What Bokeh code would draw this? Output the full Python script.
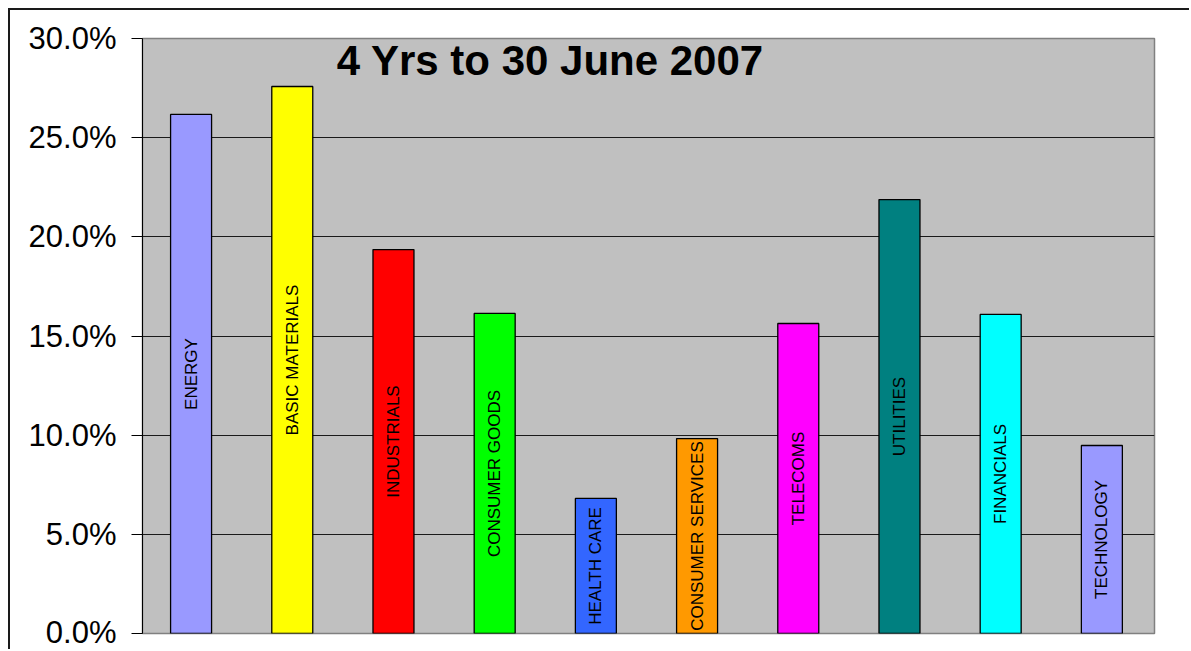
import math
from bokeh.plotting import figure
from bokeh.models import ColumnDataSource, NumeralTickFormatter, FixedTicker, Range1d, Label
from bokeh.core.properties import value
from bokeh.embed import file_html
from bokeh.resources import INLINE

sectors = ["ENERGY", "BASIC MATERIALS", "INDUSTRIALS", "CONSUMER GOODS", "HEALTH CARE",
           "CONSUMER SERVICES", "TELECOMS", "UTILITIES", "FINANCIALS", "TECHNOLOGY"]
returns = [0.2617, 0.2758, 0.1936, 0.1614, 0.0681, 0.0983, 0.1563, 0.2188, 0.1609, 0.0948]
colors = ["#9999FF", "#FFFF00", "#FF0000", "#00FF00", "#3366FF",
          "#FF9900", "#FF00FF", "#008080", "#00FFFF", "#9999FF"]
y_ticks = [0.0, 0.05, 0.10, 0.15, 0.20, 0.25, 0.30]
title_text = "4 Yrs to 30 June 2007"

FONT = "Liberation Sans"

xs = [i + 0.48 for i in range(len(sectors))]
source = ColumnDataSource(dict(x=xs, top=returns, color=colors, name=sectors,
                               mid=[r / 2 for r in returns]))

p = figure(width=1181, height=641, output_backend="svg", toolbar_location=None,
           x_range=Range1d(0, len(sectors)), y_range=Range1d(0, 0.30),
           min_border_left=132, min_border_top=28, min_border_right=37, min_border_bottom=18)
p.styles = {"margin-left": "8px", "margin-top": "8px",
            "border-top": "2px solid #1a1a1a", "border-left": "2px solid #1a1a1a"}

p.background_fill_color = "#C0C0C0"
p.border_fill_color = "white"
p.outline_line_color = "#808080"
p.outline_line_width = 1.5

p.xaxis.visible = False
p.xgrid.visible = False

p.yaxis.ticker = FixedTicker(ticks=y_ticks)
p.yaxis.formatter = NumeralTickFormatter(format="0.0%")
p.yaxis.major_label_text_font = FONT
p.yaxis.major_label_text_font_size = "31px"
p.yaxis.major_label_text_color = "black"
p.yaxis.major_label_standoff = 15
p.yaxis.major_tick_out = 11
p.yaxis.major_tick_in = 0
p.yaxis.minor_tick_line_color = None
p.yaxis.axis_line_color = "black"
p.yaxis.major_tick_line_color = "black"

p.ygrid.ticker = FixedTicker(ticks=y_ticks)
p.ygrid.grid_line_color = "#1a1a1a"
p.ygrid.grid_line_width = 1

p.vbar(x="x", top="top", width=0.405, bottom=0, source=source,
       fill_color="color", line_color="black", line_width=1.3)

p.text(x="x", y="mid", text="name", source=source, angle=math.pi / 2,
       text_align="center", text_baseline="middle",
       text_font=value(FONT), text_font_size="17px", text_color="black")

p.add_layout(Label(x=4.03, y=0.289, text=title_text, text_font=FONT,
                   text_font_size="42px", text_font_style="bold",
                   text_align="center", text_baseline="middle", text_color="black"))

open("out.html", "w").write(file_html(p, INLINE))
